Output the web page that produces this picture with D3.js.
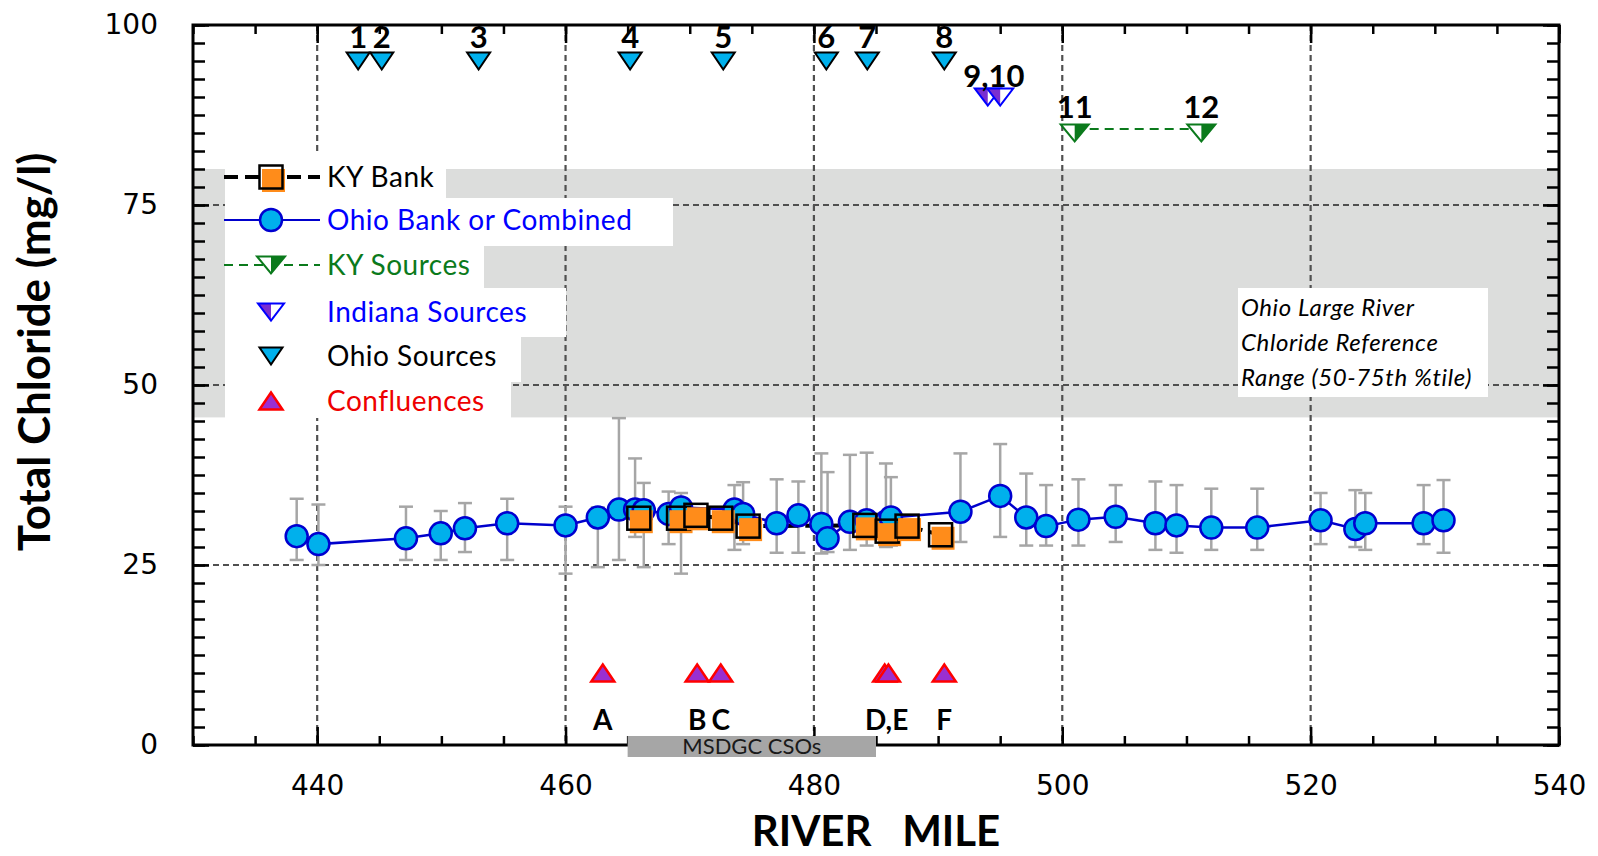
<!DOCTYPE html>
<html>
<head>
<meta charset="utf-8">
<script src="https://cdn.jsdelivr.net/npm/d3@7"></script>
<style>
  html, body { margin: 0; padding: 0; background: #fff; }
  svg { display: block; }
</style>
</head>
<body>
<div id="chloride_chart"></div>
<script>
// Values
const ohioMiles = [438.35, 440.1, 447.15, 449.95, 451.9, 455.3, 460.0, 462.6, 464.3, 465.6, 466.3, 468.3, 469.3,
  473.6, 474.3, 477.0, 478.75, 480.6, 481.1, 482.9, 484.25, 485.8, 486.2, 491.8, 495.0, 497.1, 498.7,
  501.3, 504.3, 507.5, 509.2, 512.0, 515.7, 520.8, 523.6, 524.4, 529.1, 530.7];
const ohioChloride = [29.0, 27.9, 28.7, 29.4, 30.1, 30.8, 30.5, 31.6, 32.7, 32.7, 32.6, 32.1, 33.0,
  32.7, 32.1, 30.8, 31.9, 30.7, 28.7, 31.0, 31.2, 31.0, 31.6, 32.4, 34.6, 31.6, 30.4,
  31.3, 31.7, 30.8, 30.5, 30.2, 30.2, 31.2, 30.0, 30.8, 30.8, 31.2];
const ohioLow = [25.7, 25.0, 25.7, 25.7, 26.8, 25.7, 23.8, 24.7, 25.7, 28.9, 24.7, 27.9, 23.8,
  27.1, 27.9, 26.7, 26.7, 26.6, 26.8, 27.1, 27.7, 27.5, 27.7, 28.2, 28.9, 27.7, 27.7,
  27.7, 28.2, 27.1, 26.7, 27.1, 27.1, 27.9, 27.5, 27.1, 27.9, 26.7];
const ohioHigh = [34.2, 33.4, 33.1, 32.5, 33.6, 34.2, 33.1, 33.0, 45.4, 39.8, 36.4, 35.2, 35.0,
  36.1, 36.5, 36.9, 36.6, 40.5, 37.9, 40.3, 40.6, 39.1, 37.2, 40.5, 41.8, 37.7, 36.1,
  36.9, 36.1, 36.6, 36.1, 35.6, 35.6, 35.0, 35.4, 35.0, 36.1, 36.8];

const kyBankMiles = [465.9, 469.1, 470.5, 472.5, 474.7, 484.1, 485.9, 487.5, 490.2];
const kyBankChloride = [31.5, 31.5, 31.9, 31.5, 30.4, 30.5, 29.7, 30.4, 29.2];

const ohioSourceLabels = ["1", "2", "3", "4", "5", "6", "7", "8"];
const ohioSourceMiles = [443.3, 445.2, 453.0, 465.2, 472.7, 481.0, 484.3, 490.5];
const ohioSourceLevel = 95;

const indianaSourceLabel = "9,10";
const indianaSourceMiles = [494.0, 495.0];
const indianaSourceLevel = 90;

const kySourceLabels = ["11", "12"];
const kySourceMiles = [501.0, 511.2];
const kySourceLevel = 85;

const confluenceMiles = [463.0, 470.6, 472.5, 485.7, 486.0, 490.5];
const confluenceLevel = 10;
const confluenceLabels = ["A", "B", "C", "D,E", "F"];
const confluenceLabelGroups = [[0], [1], [2], [3, 4], [5]];

const referenceBand = [45.5, 80];
const referenceText = ["Ohio Large River", "Chloride Reference", "Range (50-75th %tile)"];
const csoReach = [465, 485];
const csoLabel = "MSDGC CSOs";

const xTickLabels = [440, 460, 480, 500, 520, 540];
const yTickLabels = [0, 25, 50, 75, 100];
const legendLabels = ["KY Bank", "Ohio Bank or Combined", "KY Sources", "Indiana Sources", "Ohio Sources", "Confluences"];

// Chart setup
const graphDimensions = {
  margin: { top: 25, right: 39, bottom: 111, left: 193 },
  width: 1598,
  height: 856,
};
const { width, height, margin } = graphDimensions;
const adjustedWidth = width - margin.left - margin.right;
const adjustedHeight = height - margin.top - margin.bottom;

const colors = {
  circleFill: "#00b0ec", circleStroke: "#0000d0", ohioLine: "#0000cc",
  square: "#ff8c1a", errorBar: "#a6a6a6", band: "#dcdddc", grid: "#505050",
  kyGreen: "#0b7a1c", indianaBlue: "#0000ff", indianaPurple: "#7a2ed0",
  confFill: "#9a2fd0", confStroke: "#ff0000", red: "#ee0000",
};

const xScale = d3.scaleLinear().domain([430, 540]).range([0, adjustedWidth]);
const yScale = d3.scaleLinear().domain([0, 100]).range([adjustedHeight, 0]);

const svg = d3.select("#chloride_chart")
  .append("svg")
  .attr("width", width)
  .attr("height", height)
  .append("g")
  .attr("transform", `translate(${margin.left}, ${margin.top})`);

// marker shapes
const triDown = (w, h) => `M${-w / 2},${-h / 2}H${w / 2}L0,${h / 2}Z`;
const triUp = (w, h) => `M${-w / 2},${h / 2}H${w / 2}L0,${-h / 2}Z`;
const halfDownLeft = (w, h) => `M${-w / 2},${-h / 2}H0V${h / 2}Z`;
const halfDownRight = (w, h) => `M0,${-h / 2}H${w / 2}L0,${h / 2}Z`;

drawBackground();
drawLegend();
drawSeries();
drawSources();
drawAxes();
drawTitles();

function drawBackground() {
  svg.append("rect")
    .attr("x", 0).attr("width", adjustedWidth)
    .attr("y", yScale(referenceBand[1]))
    .attr("height", yScale(referenceBand[0]) - yScale(referenceBand[1]))
    .attr("fill", colors.band);

  const grid = svg.append("g").attr("stroke", colors.grid).attr("stroke-width", 2.2).attr("stroke-dasharray", "6,4");
  grid.selectAll(".vgrid").data(xTickLabels.filter((d) => d < 540)).join("line")
    .attr("x1", (d) => xScale(d)).attr("x2", (d) => xScale(d))
    .attr("y1", 0).attr("y2", adjustedHeight);
  grid.selectAll(".hgrid").data(yTickLabels.filter((d) => d > 0 && d < 100)).join("line")
    .attr("y1", (d) => yScale(d)).attr("y2", (d) => yScale(d))
    .attr("x1", 0).attr("x2", adjustedWidth);

  // reference range note
  const note = svg.append("g").attr("transform", `translate(${1238 - margin.left}, ${288 - margin.top})`);
  note.append("rect").attr("width", 250).attr("height", 109).attr("fill", "#fff");
  note.selectAll("text").data(referenceText).join("text")
    .attr("x", 3).attr("y", (d, i) => 28 + i * 35)
    .style("font-family", "Lato, sans-serif").style("font-style", "italic")
    .style("font-size", "24px").style("letter-spacing", "0.6px").attr("fill", "#000")
    .text((d) => d);
}

function drawLegend() {
  const boxRight = [446, 673, 484, 566, 521, 511];
  const boxTop = [155, 198, 246, 288, 337, 382, 418];
  const symbolY = [177, 220, 265, 312, 356, 401];
  const textColor = ["#000", "#0000ff", colors.kyGreen, "#0000ff", "#000", colors.red];
  const lg = svg.append("g").attr("transform", `translate(${-margin.left}, ${-margin.top})`);

  legendLabels.forEach((label, i) => {
    lg.append("rect").attr("x", 225).attr("y", boxTop[i])
      .attr("width", boxRight[i] - 225).attr("height", boxTop[i + 1] - boxTop[i]).attr("fill", "#fff");
    const row = lg.append("g").attr("transform", `translate(271, ${symbolY[i]})`);
    if (i === 0) {
      row.append("line").attr("x1", -47).attr("x2", 49).attr("stroke", "#000")
        .attr("stroke-width", 4).attr("stroke-dasharray", "14,7");
      drawSquare(row, 0, 0);
    } else if (i === 1) {
      row.append("line").attr("x1", -47).attr("x2", 49).attr("stroke", colors.ohioLine).attr("stroke-width", 2);
      drawCircle(row, 0, 0);
    } else if (i === 2) {
      row.append("line").attr("x1", -47).attr("x2", 49).attr("stroke", colors.kyGreen)
        .attr("stroke-width", 2).attr("stroke-dasharray", "9,6");
      drawKySource(row, 0, 0);
    } else if (i === 3) {
      drawIndianaSource(row, 0, 0);
    } else if (i === 4) {
      drawOhioSource(row, 0, 0);
    } else {
      drawConfluence(row, 0, 0);
    }
    lg.append("text").attr("x", 327).attr("y", symbolY[i] + 9.5)
      .style("font-family", "Lato, sans-serif").style("font-size", "28px").style("letter-spacing", "0.5px")
      .attr("fill", textColor[i]).text(label);
  });
}

function drawCircle(g, cx, cy) {
  g.append("circle").attr("cx", cx).attr("cy", cy).attr("r", 11)
    .attr("fill", colors.circleFill).attr("stroke", colors.circleStroke).attr("stroke-width", 2.5);
}

function drawSquare(g, cx, cy) {
  g.append("rect").attr("x", cx - 9).attr("y", cy - 8).attr("width", 23).attr("height", 23).attr("fill", colors.square);
  g.append("rect").attr("x", cx - 11.5).attr("y", cy - 11.5).attr("width", 23).attr("height", 23)
    .attr("fill", "none").attr("stroke", "#000").attr("stroke-width", 2.5);
}

function drawOhioSource(g, cx, cy) {
  g.append("path").attr("transform", `translate(${cx},${cy})`).attr("d", triDown(23, 17))
    .attr("fill", colors.circleFill).attr("stroke", "#000").attr("stroke-width", 2);
}

function drawIndianaSource(g, cx, cy) {
  const t = g.append("g").attr("transform", `translate(${cx},${cy})`);
  t.append("path").attr("d", triDown(26, 17)).attr("fill", "#fff");
  t.append("path").attr("d", halfDownLeft(26, 17)).attr("fill", colors.indianaPurple);
  t.append("path").attr("d", triDown(26, 17)).attr("fill", "none")
    .attr("stroke", colors.indianaBlue).attr("stroke-width", 2);
}

function drawKySource(g, cx, cy) {
  const t = g.append("g").attr("transform", `translate(${cx},${cy})`);
  t.append("path").attr("d", triDown(28, 17)).attr("fill", "#fff");
  t.append("path").attr("d", halfDownRight(28, 17)).attr("fill", colors.kyGreen);
  t.append("path").attr("d", triDown(28, 17)).attr("fill", "none")
    .attr("stroke", colors.kyGreen).attr("stroke-width", 2);
}

function drawConfluence(g, cx, cy) {
  g.append("path").attr("transform", `translate(${cx},${cy})`).attr("d", triUp(23, 17))
    .attr("fill", colors.confFill).attr("stroke", colors.confStroke).attr("stroke-width", 2.5);
}

function drawSeries() {
  const ohio = ohioMiles.map((m, i) => ({ mile: m, value: ohioChloride[i], low: ohioLow[i], high: ohioHigh[i] }));
  const kyBank = kyBankMiles.map((m, i) => ({ mile: m, value: kyBankChloride[i] }));

  // error bars
  const bars = svg.append("g").attr("stroke", colors.errorBar).attr("stroke-width", 2.5);
  ohio.forEach((d) => {
    const x = xScale(d.mile);
    bars.append("line").attr("x1", x).attr("x2", x).attr("y1", yScale(d.low)).attr("y2", yScale(d.high));
    [d.low, d.high].forEach((v) =>
      bars.append("line").attr("x1", x - 7).attr("x2", x + 7).attr("y1", yScale(v)).attr("y2", yScale(v)));
  });

  const line = d3.line().x((d) => xScale(d.mile)).y((d) => yScale(d.value));
  svg.append("path").datum(kyBank).attr("d", line).attr("fill", "none")
    .attr("stroke", "#000").attr("stroke-width", 4).attr("stroke-dasharray", "14,7");
  svg.append("path").datum(ohio).attr("d", line).attr("fill", "none")
    .attr("stroke", colors.ohioLine).attr("stroke-width", 2.5);

  const circles = svg.append("g");
  ohio.forEach((d) => drawCircle(circles, xScale(d.mile), yScale(d.value)));
  const squares = svg.append("g");
  kyBank.forEach((d) => drawSquare(squares, xScale(d.mile), yScale(d.value)));
}

function drawSources() {
  const labelStyle = (sel) => sel.style("font-family", "Lato, sans-serif").style("font-weight", "bold")
    .style("font-size", "31px").attr("text-anchor", "middle").attr("fill", "#000");

  const src = svg.append("g");
  ohioSourceMiles.forEach((m, i) => {
    drawOhioSource(src, xScale(m), yScale(ohioSourceLevel));
    labelStyle(src.append("text").attr("x", xScale(m)).attr("y", yScale(ohioSourceLevel) - 13).text(ohioSourceLabels[i]));
  });

  indianaSourceMiles.forEach((m) => drawIndianaSource(src, xScale(m), yScale(indianaSourceLevel)));
  labelStyle(src.append("text").attr("x", xScale(d3.mean(indianaSourceMiles)))
    .attr("y", yScale(indianaSourceLevel) - 10).text(indianaSourceLabel));

  src.append("line")
    .attr("x1", xScale(kySourceMiles[0])).attr("x2", xScale(kySourceMiles[1]))
    .attr("y1", yScale(kySourceLevel) - 4).attr("y2", yScale(kySourceLevel) - 4)
    .attr("stroke", colors.kyGreen).attr("stroke-width", 2).attr("stroke-dasharray", "9,6");
  kySourceMiles.forEach((m, i) => {
    drawKySource(src, xScale(m), yScale(kySourceLevel));
    labelStyle(src.append("text").attr("x", xScale(m)).attr("y", yScale(kySourceLevel) - 15).text(kySourceLabels[i]));
  });

  confluenceMiles.forEach((m) => drawConfluence(src, xScale(m), yScale(confluenceLevel)));
  confluenceLabelGroups.forEach((grp, i) => {
    const m = d3.mean(grp, (k) => confluenceMiles[k]);
    labelStyle(src.append("text").attr("x", xScale(m)).attr("y", yScale(confluenceLevel) + 57).text(confluenceLabels[i]))
      .style("font-size", "28px");
  });
}

function drawAxes() {
  const xMinor = d3.range(430, 541, 5);
  const yMinor = d3.range(0, 100.1, 2.5);
  const tickFont = (g) => {
    g.select(".domain").remove();
    g.selectAll("line").attr("stroke", "#000").attr("stroke-width", 2.5);
    g.selectAll("text").style("font-family", "'DejaVu Sans', sans-serif").style("font-size", "28px").attr("fill", "#000");
  };
  svg.append("g").attr("transform", `translate(0, ${adjustedHeight})`)
    .call(d3.axisBottom(xScale).tickValues(xMinor).tickSize(-9).tickFormat("")).call(tickFont);
  svg.append("g")
    .call(d3.axisTop(xScale).tickValues(xMinor).tickSize(-9).tickFormat("")).call(tickFont);
  svg.append("g")
    .call(d3.axisLeft(yScale).tickValues(yMinor).tickSize(-12).tickFormat("")).call(tickFont);
  svg.append("g").attr("transform", `translate(${adjustedWidth}, 0)`)
    .call(d3.axisRight(yScale).tickValues(yMinor).tickSize(-12).tickFormat("")).call(tickFont);

  svg.append("g").attr("class", "x-axis").attr("transform", `translate(0, ${adjustedHeight})`)
    .call(d3.axisBottom(xScale).tickValues(xTickLabels).tickSize(-18).tickPadding(30).tickFormat(d3.format("d")))
    .call(tickFont);
  svg.append("g")
    .call(d3.axisTop(xScale).tickValues(xTickLabels).tickSize(-18).tickFormat("")).call(tickFont);
  svg.append("g").attr("class", "y-axis")
    .call(d3.axisLeft(yScale).tickValues(yTickLabels).tickSize(-16).tickPadding(35)).call(tickFont);
  svg.append("g").attr("transform", `translate(${adjustedWidth}, 0)`)
    .call(d3.axisRight(yScale).tickValues(yTickLabels).tickSize(-16).tickFormat("")).call(tickFont);

  svg.append("rect").attr("width", adjustedWidth).attr("height", adjustedHeight)
    .attr("fill", "none").attr("stroke", "#000").attr("stroke-width", 3);

  // CSO reach bar over the bottom axis
  const x0 = xScale(csoReach[0]);
  const x1 = xScale(csoReach[1]);
  svg.append("rect").attr("x", x0).attr("y", adjustedHeight - 9).attr("width", x1 - x0).attr("height", 21)
    .attr("fill", "#a6a6a6");
  svg.append("text").attr("x", (x0 + x1) / 2).attr("y", adjustedHeight + 9)
    .attr("text-anchor", "middle").style("font-family", "Lato, sans-serif").style("font-size", "22px")
    .attr("fill", "#1a1a1a").text(csoLabel);
}

function drawTitles() {
  svg.append("text")
    .attr("transform", `translate(${50 - margin.left}, ${352 - margin.top}) rotate(-90)`)
    .attr("text-anchor", "middle")
    .style("font-family", "Lato, sans-serif").style("font-weight", "bold").style("font-size", "44px")
    .text("Total Chloride (mg/l)");
  svg.append("text")
    .attr("x", adjustedWidth / 2).attr("y", 846 - margin.top)
    .attr("text-anchor", "middle").style("white-space", "pre")
    .style("font-family", "Lato, sans-serif").style("font-weight", "bold").style("font-size", "42px")
    .text("RIVER   MILE");
}
</script>
</body>
</html>
